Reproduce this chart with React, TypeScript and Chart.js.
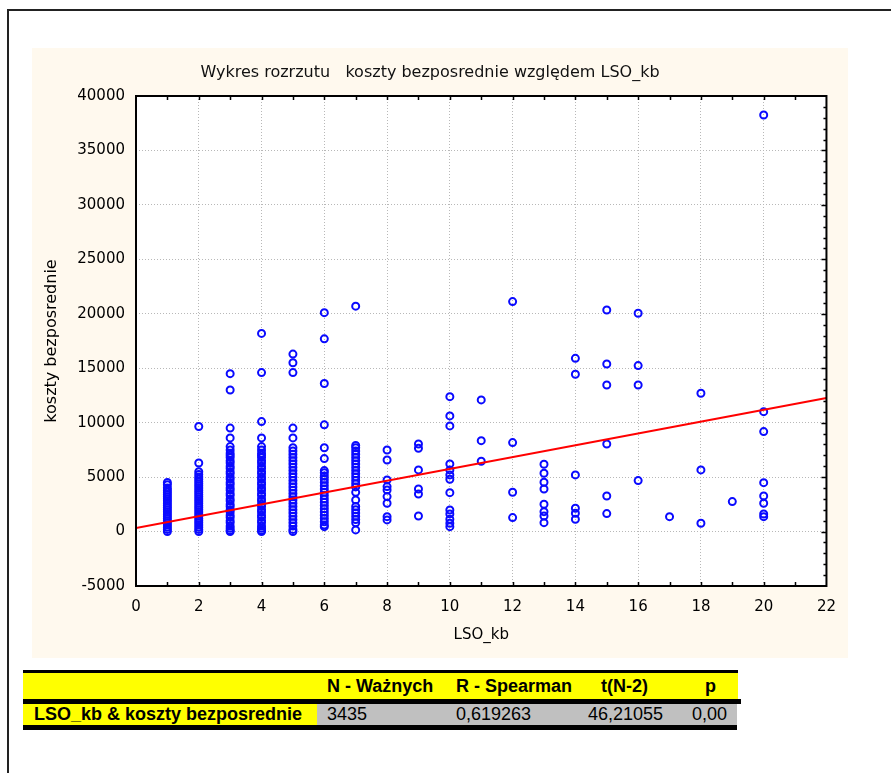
import React, { useEffect, useRef } from "react";
import { Chart, registerables } from "chart.js";

Chart.register(...registerables);

const chartTitle = "Wykres rozrzutu   koszty bezposrednie względem LSO_kb";
const xTitle = "LSO_kb";
const yTitle = "koszty bezposrednie";

const xMin = 0, xMax = 22, xStep = 2;
const yMin = -5000, yMax = 40000, yStep = 5000;

// koszty bezposrednie per LSO_kb value
const yAt1 = [4500, 4300, 4000, 3800, 3600, 3400, 3200, 3000, 2800, 2600, 2400, 2200, 2000, 1800, 1600, 1400, 1200, 1000, 800, 600, 400, 200, 0];
const yAt2 = [9650, 6300, 5500, 5250, 5000, 4800, 4600, 4400, 4200, 4000, 3800, 3600, 3400, 3200, 3000, 2800, 2600, 2400, 2200, 2000, 1800, 1600, 1400, 1200, 1000, 800, 600, 400, 200, 0];
const yAt3 = [14500, 13000, 9500, 8600, 7800, 7500, 7200, 7000, 6800, 6500, 6300, 6000, 5800, 5500, 5300, 5000, 4800, 4500, 4300, 4000, 3800, 3500, 3300, 3000, 2800, 2500, 2300, 2000, 1800, 1500, 1300, 1000, 800, 500, 300, 100, 0];
const yAt4 = [18200, 14600, 10100, 8600, 7800, 7500, 7200, 7000, 6800, 6500, 6300, 6000, 5800, 5500, 5300, 5000, 4800, 4500, 4300, 4000, 3800, 3500, 3300, 3000, 2800, 2500, 2300, 2000, 1800, 1500, 1300, 1000, 800, 500, 300, 100, 0];
const yAt5 = [16300, 15500, 14600, 9500, 8600, 7700, 7400, 7100, 6800, 6500, 6200, 5900, 5600, 5300, 5000, 4700, 4400, 4100, 3800, 3500, 3200, 2900, 2600, 2300, 2000, 1700, 1400, 1100, 800, 500, 200, 0];
const yAt6 = [20100, 17700, 13600, 9800, 7700, 6700, 5600, 5400, 5100, 4800, 4500, 4200, 3900, 3600, 3300, 3000, 2700, 2400, 2100, 1800, 1500, 1200, 900, 600, 450];
const yAt7 = [20700, 7900, 7700, 7400, 7100, 6800, 6500, 6200, 5900, 5600, 5300, 5000, 4700, 4400, 4100, 3600, 2900, 2300, 2000, 1700, 1400, 1100, 800, 150];
const yAt8 = [7490, 6570, 4740, 4130, 3820, 3210, 2600, 1370, 1070];
const yAt9 = [8040, 7650, 5660, 3910, 3450, 1430];
const yAt10 = [12390, 10620, 9700, 6210, 5660, 5200, 4800, 3570, 1980, 1620, 1130, 760, 450];
const yAt11 = [12090, 8350, 6460];
const yAt12 = [21120, 8170, 3610, 1280];
const yAt13 = [6180, 5350, 4530, 3910, 2510, 1830, 1430, 820];
const yAt14 = [15910, 14450, 5200, 2140, 1680, 1130];
const yAt15 = [20350, 15390, 13460, 8040, 3270, 1650];
const yAt16 = [20050, 15240, 13460, 4680];
const yAt17 = [1370];
const yAt18 = [12700, 5660, 760];
const yAt19 = [2750];
const yAt20 = [38260, 11010, 9180, 4490, 3270, 2600, 1610, 1370];

const columns: [number, number[]][] = [
  [1, yAt1], [2, yAt2], [3, yAt3], [4, yAt4], [5, yAt5], [6, yAt6], [7, yAt7],
  [8, yAt8], [9, yAt9], [10, yAt10], [11, yAt11], [12, yAt12], [13, yAt13],
  [14, yAt14], [15, yAt15], [16, yAt16], [17, yAt17], [18, yAt18], [19, yAt19], [20, yAt20],
];

// regression line
const fitX = [0, 22];
const fitY = [330, 12260];

// table
const tableHeaders = ["N - Ważnych", "R - Spearman", "t(N-2)", "p"];
const tableRowLabel = "LSO_kb & koszty bezposrednie";
const tableRowValues = ["3435", "0,619263", "46,21055", "0,00"];

const FONT = "'DejaVu Sans', sans-serif";

const frameBox = {
  id: "frameBox",
  beforeDraw(chart: any) {
    const { ctx, chartArea: a } = chart;
    ctx.save();
    ctx.fillStyle = "#ffffff";
    ctx.fillRect(a.left, a.top, a.right - a.left, a.bottom - a.top);
    ctx.restore();
  },
  afterDraw(chart: any) {
    const { ctx, chartArea: a, scales } = chart;
    const xs = scales.x;
    const ys = scales.y;
    ctx.save();
    ctx.strokeStyle = "#000000";
    ctx.lineWidth = 2;
    ctx.strokeRect(a.left, a.top, a.right - a.left, a.bottom - a.top);
    ctx.lineWidth = 1.5;
    ctx.beginPath();
    for (let v = xMin + 1; v < xMax; v += 1) {
      const px = Math.round(xs.getPixelForValue(v)) + 0.5;
      ctx.moveTo(px, a.bottom);
      ctx.lineTo(px, a.bottom - 4);
      ctx.moveTo(px, a.top);
      ctx.lineTo(px, a.top + 4);
    }
    for (let v = yMin + 1000; v < yMax; v += 1000) {
      const py = Math.round(ys.getPixelForValue(v)) + 0.5;
      const len = v % 5000 === 0 ? 5 : 3;
      ctx.moveTo(a.right, py);
      ctx.lineTo(a.right - len, py);
    }
    ctx.stroke();
    ctx.restore();
  },
};

function ChartBox() {
  const ref = useRef<HTMLCanvasElement | null>(null);
  useEffect(() => {
    if (!ref.current) return;
    const pts: { x: number; y: number }[] = [];
    columns.forEach(([x, ys]) => ys.forEach((y) => pts.push({ x, y })));
    const chart = new Chart(ref.current, {
      type: "scatter",
      data: {
        datasets: [
          {
            type: "line",
            data: fitX.map((x, i) => ({ x, y: fitY[i] })),
            borderColor: "#ff0000",
            borderWidth: 2,
            pointRadius: 0,
            fill: false,
            order: 0,
          } as any,
          {
            data: pts,
            borderColor: "#0a0aff",
            backgroundColor: "rgba(0,0,0,0)",
            borderWidth: 2,
            pointRadius: 3.5,
            pointStyle: "circle",
            order: 1,
          },
        ],
      },
      plugins: [frameBox],
      options: {
        animation: false,
        responsive: false,
        devicePixelRatio: 1,
        events: [],
        layout: { padding: { left: 0, top: 0, right: 20, bottom: 0 } },
        plugins: {
          legend: { display: false },
          tooltip: { enabled: false },
          title: {
            display: true,
            text: chartTitle,
            color: "#111111",
            font: { family: FONT, size: 16, weight: "normal" },
            padding: { top: 15.4, bottom: 13.4 },
          },
        },
        scales: {
          x: {
            type: "linear",
            min: xMin,
            max: xMax,
            afterFit: (s: any) => { s.height = 72; },
            ticks: {
              stepSize: xStep,
              color: "#000000",
              font: { family: FONT, size: 15 },
              padding: 12,
              maxRotation: 0,
              callback: (v: any) => String(v),
            },
            grid: { color: "#b8b8b8", lineWidth: 1, drawTicks: false },
            border: { display: false, dash: [1, 2] },
            title: {
              display: true,
              text: xTitle,
              color: "#000000",
              font: { family: FONT, size: 15 },
              padding: { top: 0, bottom: 14 },
            },
          },
          y: {
            type: "linear",
            min: yMin,
            max: yMax,
            afterFit: (s: any) => { s.width = 104; },
            ticks: {
              stepSize: yStep,
              color: "#000000",
              font: { family: FONT, size: 15 },
              padding: 11,
              callback: (v: any) => String(v),
            },
            grid: { color: "#b8b8b8", lineWidth: 1, drawTicks: false },
            border: { display: false, dash: [1, 2] },
            title: {
              display: true,
              text: yTitle,
              color: "#000000",
              font: { family: FONT, size: 16 },
              padding: { top: 10.4, bottom: 0 },
            },
          },
        },
      } as any,
    });
    return () => chart.destroy();
  }, []);
  return <canvas ref={ref} width={816} height={610} style={{ display: "block", width: 816, height: 610 }} />;
}

const cellFont = "'Liberation Sans', Arial, sans-serif";

export default function App() {
  const headerLeft = [327, 456, 601, 705];
  const valueLeft = [327, 456, 588, 692];
  return (
    <div style={{ position: "absolute", left: 0, top: 0, width: 891, height: 773, background: "#ffffff", overflow: "hidden" }}>
      {/* outer frame */}
      <div style={{ position: "absolute", left: 7, top: 9, width: 884, height: 2, background: "#222" }} />
      <div style={{ position: "absolute", left: 7, top: 9, width: 2, height: 764, background: "#222" }} />
      {/* chart panel */}
      <div style={{ position: "absolute", left: 32, top: 48, width: 816, height: 610, background: "#fff9ee" }}>
        <ChartBox />
      </div>
      {/* table */}
      <div style={{ position: "absolute", left: 23, top: 670, width: 715, height: 3, background: "#000" }} />
      <div style={{ position: "absolute", left: 23, top: 673, width: 715, height: 26, background: "#ffff00" }} />
      <div style={{ position: "absolute", left: 23, top: 699, width: 718, height: 5, background: "#000" }} />
      <div style={{ position: "absolute", left: 23, top: 704, width: 294, height: 21, background: "#ffff00" }} />
      <div style={{ position: "absolute", left: 317, top: 704, width: 420, height: 21, background: "#c0c0c0" }} />
      <div style={{ position: "absolute", left: 23, top: 725, width: 714, height: 5, background: "#000" }} />
      {tableHeaders.map((h, i) => (
        <div key={h} style={{ position: "absolute", left: headerLeft[i], top: 675, height: 22, lineHeight: "22px", fontFamily: cellFont, fontWeight: "bold", fontSize: 18, color: "#000", whiteSpace: "pre" }}>{h}</div>
      ))}
      <div style={{ position: "absolute", left: 34, top: 704, height: 21, lineHeight: "21px", fontFamily: cellFont, fontWeight: "bold", fontSize: 18, color: "#000", whiteSpace: "pre" }}>{tableRowLabel}</div>
      {tableRowValues.map((v, i) => (
        <div key={i} style={{ position: "absolute", left: valueLeft[i], top: 704, height: 21, lineHeight: "21px", fontFamily: cellFont, fontSize: 18, color: "#000", whiteSpace: "pre" }}>{v}</div>
      ))}
    </div>
  );
}
